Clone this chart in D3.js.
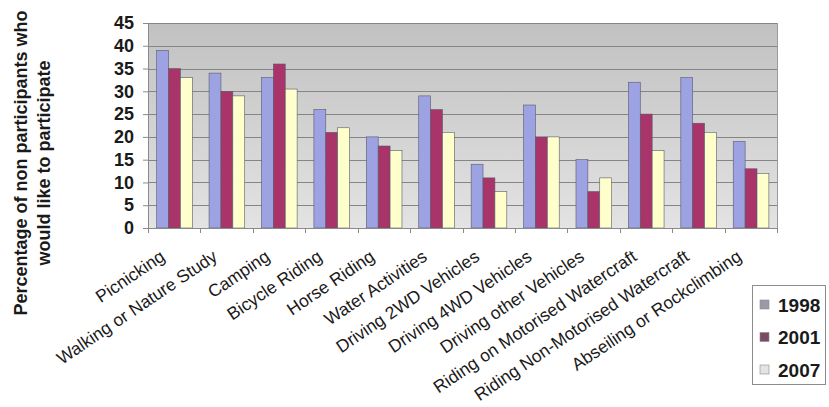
<!DOCTYPE html>
<html>
<head>
<meta charset="utf-8">
<script src="https://cdn.jsdelivr.net/npm/d3@7"></script>
<style>
  html, body { margin: 0; padding: 0; background: #ffffff; }
  svg { display: block; }
  text { font-family: "Liberation Sans", Arial, sans-serif; fill: #1a1a1a; }
</style>
</head>
<body>
<script>
const categories = [
  "Picnicking", "Walking or Nature Study", "Camping", "Bicycle Riding",
  "Horse Riding", "Water Activities", "Driving 2WD Vehicles", "Driving 4WD Vehicles",
  "Driving other Vehicles", "Riding on Motorised Watercraft",
  "Riding Non-Motorised Watercraft", "Abseiling or Rockclimbing"
];
const seriesNames = ["1998", "2001", "2007"];
const values1998 = [39, 34, 33, 26, 20, 29, 14, 27, 15, 32, 33, 19];
const values2001 = [35, 30, 36, 21, 18, 26, 11, 20, 8, 25, 23, 13];
const values2007 = [33, 29, 30.5, 22, 17, 21, 8, 20, 11, 17, 21, 12];
const yTicks = [0, 5, 10, 15, 20, 25, 30, 35, 40, 45];
const barColors = ["#9ca2e2", "#a8346a", "#ffffcc"];
const legendSwatch = ["#9a9aa6", "#7c4a62", "#e4e4e4"];
const yTitle = ["Percentage of non participants who", "would like to participate"];

const W = 829, H = 407;
const m = { left: 148, right: 777, top: 23, bottom: 228 };

const svg = d3.select("body").append("svg").attr("width", W).attr("height", H);

const defs = svg.append("defs");
const grad = defs.append("linearGradient").attr("id", "bg").attr("x1", 0).attr("y1", 0).attr("x2", 0).attr("y2", 1);
grad.append("stop").attr("offset", "0%").attr("stop-color", "#c1c1c1");
grad.append("stop").attr("offset", "100%").attr("stop-color", "#e3e3e3");

const x0 = d3.scaleBand().domain(categories).range([m.left, m.right]).paddingInner(0).paddingOuter(0);
const bw = x0.bandwidth();
const x1 = d3.scaleBand().domain(seriesNames).range([bw * 0.165, bw * 0.845]).padding(0);
const y = d3.scaleLinear().domain([0, 45]).range([m.bottom, m.top]);

// plot area
svg.append("rect")
  .attr("x", m.left).attr("y", m.top)
  .attr("width", m.right - m.left).attr("height", m.bottom - m.top)
  .attr("fill", "url(#bg)");

// gridlines
svg.append("g").selectAll("line").data(yTicks.filter(d => d > 0)).join("line")
  .attr("x1", m.left).attr("x2", m.right)
  .attr("y1", d => Math.round(y(d)) + 0.5).attr("y2", d => Math.round(y(d)) + 0.5)
  .attr("stroke", "#858585").attr("stroke-width", 1);

// right border
svg.append("line")
  .attr("x1", m.right + 0.5).attr("x2", m.right + 0.5)
  .attr("y1", m.top).attr("y2", m.bottom)
  .attr("stroke", "#9a9a9a");

// bars
const seriesData = [values1998, values2001, values2007];
const groups = svg.append("g").selectAll("g").data(categories).join("g")
  .attr("transform", d => `translate(${x0(d)},0)`);
groups.selectAll("rect").data((c, i) => seriesNames.map((s, j) => ({ s, j, v: seriesData[j][i] }))).join("rect")
  .attr("x", d => x1(d.s))
  .attr("width", x1.bandwidth())
  .attr("y", d => y(d.v))
  .attr("height", d => y(0) - y(d.v))
  .attr("fill", d => barColors[d.j])
  .attr("stroke", "#5a5a6a").attr("stroke-width", 0.6);

// y axis
const yAxis = d3.axisLeft(y).tickValues(yTicks).tickSize(5).tickPadding(9);
const gy = svg.append("g").attr("transform", `translate(${m.left},0)`).call(yAxis);
gy.select(".domain").attr("stroke", "#8a8a8a");
gy.selectAll(".tick line").attr("stroke", "#8a8a8a");
gy.selectAll(".tick text")
  .attr("font-size", 18).attr("font-weight", "bold")
  .attr("font-family", "Liberation Sans, Arial, sans-serif").attr("fill", "#1a1a1a");

// x axis (ticks at category boundaries)
const xAxisLine = svg.append("g");
xAxisLine.append("line")
  .attr("x1", m.left).attr("x2", m.right)
  .attr("y1", m.bottom + 0.5).attr("y2", m.bottom + 0.5)
  .attr("stroke", "#8a8a8a");
xAxisLine.selectAll("line.t").data(categories.concat(["_end"])).join("line")
  .attr("class", "t")
  .attr("x1", (d, i) => Math.round(m.left + i * bw) + 0.5)
  .attr("x2", (d, i) => Math.round(m.left + i * bw) + 0.5)
  .attr("y1", m.bottom).attr("y2", m.bottom + 5)
  .attr("stroke", "#8a8a8a");

// x labels
svg.append("g").selectAll("text").data(categories).join("text")
  .attr("transform", d => `translate(${x0(d) + bw / 2 - 15},${m.bottom + 21}) rotate(-34)`)
  .attr("text-anchor", "end")
  .attr("dy", "0.71em")
  .attr("font-size", 17.5)
  .text(d => d);

// y title
const yt = svg.append("g").attr("transform", "translate(0,163)");
yt.selectAll("text").data(yTitle).join("text")
  .attr("transform", (d, i) => `translate(${27 + i * 23},0) rotate(-90)`)
  .attr("text-anchor", "middle")
  .attr("font-size", 18).attr("font-weight", "bold")
  .text(d => d);

// legend
const lg = svg.append("g");
lg.append("rect").attr("x", 752.5).attr("y", 285.5).attr("width", 73).attr("height", 99)
  .attr("fill", "#ffffff").attr("stroke", "#8c8c8c");
const li = lg.selectAll("g").data(seriesNames).join("g")
  .attr("transform", (d, i) => `translate(760,${305 + i * 32.5})`);
li.append("rect").attr("x", 0).attr("y", -5).attr("width", 9).attr("height", 9)
  .attr("fill", (d, i) => legendSwatch[i]).attr("stroke", "#8a8a8a").attr("stroke-width", 0.6);
li.append("text").attr("x", 18).attr("y", 0).attr("dy", "0.36em")
  .attr("font-size", 19).attr("font-weight", "bold")
  .text(d => d);
</script>
</body>
</html>
